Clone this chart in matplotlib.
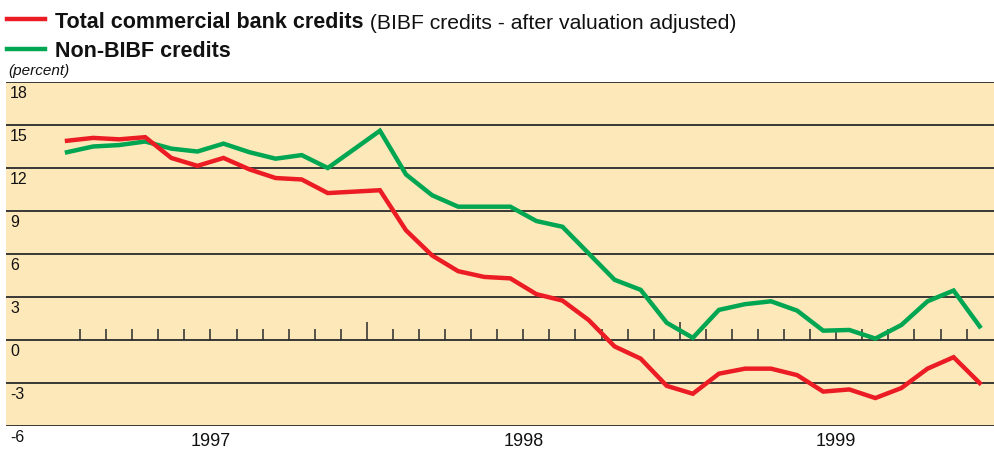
import matplotlib
matplotlib.use("Agg")
import matplotlib.pyplot as plt
import numpy as np

plt.rcParams['font.family'] = ['Liberation Sans', 'DejaVu Sans']

# monthly series, Jan 1997 - Dec 1999 (percent)
total_credits = [13.9, 14.1, 14.0, 14.15, 12.7, 12.15, 12.7, 11.9, 11.3, 11.2, 10.25, 10.35,
                 10.45, 7.65, 5.9, 4.8, 4.4, 4.3, 3.2, 2.75, 1.4, -0.45, -1.3, -3.2,
                 -3.75, -2.35, -2.0, -2.0, -2.45, -3.6, -3.45, -4.05, -3.35, -2.0, -1.2, -3.0]
non_bibf = [13.1, 13.5, 13.6, 13.85, 13.35, 13.15, 13.7, 13.1, 12.65, 12.9, 12.0, 13.3,
            14.6, 11.55, 10.1, 9.3, 9.3, 9.3, 8.3, 7.9, 6.05, 4.2, 3.5, 1.2,
            0.15, 2.1, 2.5, 2.7, 2.05, 0.65, 0.7, 0.1, 1.05, 2.7, 3.45, 0.95]
years = ['1997', '1998', '1999']
y_levels = [18, 15, 12, 9, 6, 3, 0, -3, -6]

RED = '#EC1C24'
GREEN = '#00A651'
BG = '#FDE8BA'

W, H = 994, 451
fig = plt.figure(figsize=(W / 100, H / 100), dpi=100)
ax = fig.add_axes([6 / W, 1 - 426 / H, (W - 6) / W, (426 - 82) / H])
ax.set_facecolor(BG)

x = np.arange(len(total_credits)) + 0.5
ax.set_xlim(-1.84, 36.05)
ax.set_ylim(-6, 18)

# grid lines
for v in y_levels:
    ax.axhline(v, color='#2a2a2a', lw=1.3, zorder=1)

# month ticks on the zero line
months = np.arange(1, 36)
short = months[months % 12 != 0]
tall = months[months % 12 == 0]
ax.vlines(short, 0, 0.75, color='#2a2a2a', lw=1.1, zorder=2)
ax.vlines(tall, 0, 1.25, color='#2a2a2a', lw=1.1, zorder=2)

ax.plot(x, non_bibf, color=GREEN, lw=3.2, zorder=3, solid_joinstyle='miter')
ax.plot(x, total_credits, color=RED, lw=3.2, zorder=4, solid_joinstyle='miter')

for s in ax.spines.values():
    s.set_visible(False)
ax.set_xticks([])
ax.set_yticks([])

# y labels inside, just below each line
for v in y_levels:
    ax.annotate(str(v), xy=(0, v), xycoords=ax.get_yaxis_transform(),
                xytext=(3, -3), textcoords='offset points',
                ha='left', va='top', fontsize=11.5, color='#111111')

# year labels
for i, yr in enumerate(years):
    ax.annotate(yr, xy=(6 + 12 * i, -6), xycoords='data',
                xytext=(0, -5), textcoords='offset points',
                ha='center', va='top', fontsize=13, color='#111111')

# legend / title
def px(xp, yp):
    return xp / W, 1 - yp / H

fig.add_artist(plt.Line2D([7 / W, 45 / W], [1 - 19 / H] * 2, color=RED, lw=3.2))
fig.add_artist(plt.Line2D([7 / W, 45 / W], [1 - 49 / H] * 2, color=GREEN, lw=3.2))
t1 = fig.text(*px(55, 28), 'Total commercial bank credits', fontsize=15.5,
              fontweight='bold', va='baseline', color='#111111')
fig.text(*px(55, 57), 'Non-BIBF credits', fontsize=15.5,
         fontweight='bold', va='baseline', color='#111111')
ax.annotate(' (BIBF credits - after valuation adjusted)', xy=(1, 0), xycoords=t1,
            ha='left', va='bottom', fontsize=15.2, color='#111111')
fig.text(*px(8, 75), '(percent)', fontsize=11, style='italic',
         va='baseline', color='#111111')

fig.savefig('out.png', dpi=100, facecolor='white')
